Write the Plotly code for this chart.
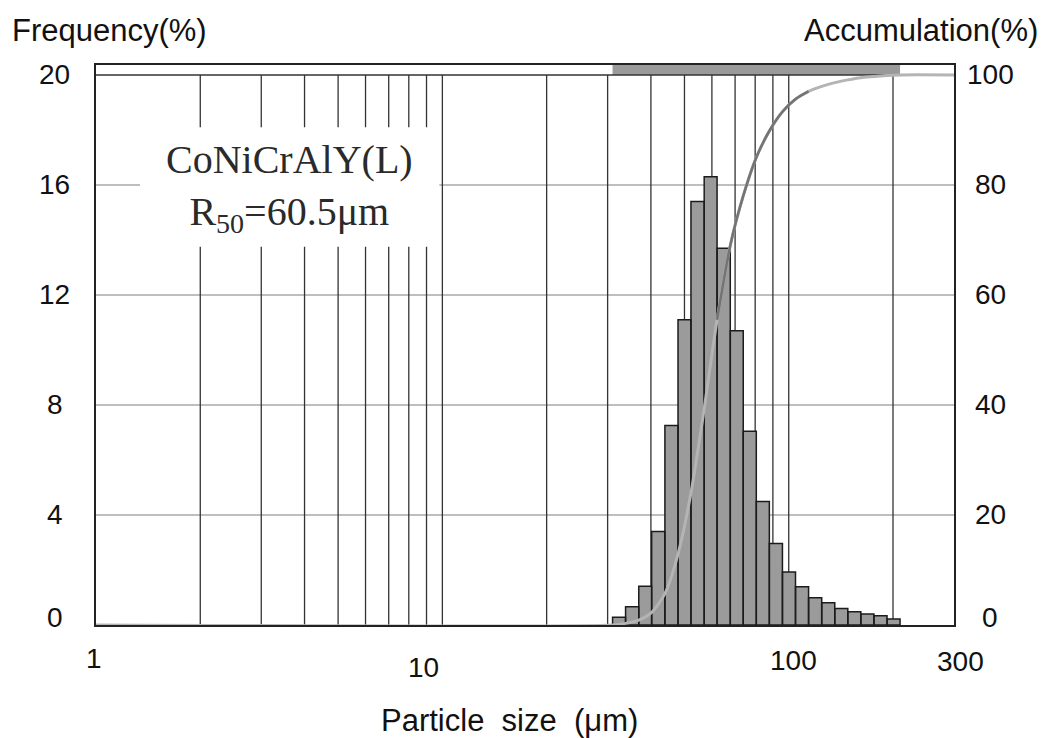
import plotly.graph_objects as go
import math

# ---------------- data ----------------
bin_edges = [31.0, 33.8, 36.9, 40.2, 43.9, 47.9, 52.2, 57.0, 62.1, 67.8, 73.9, 80.6,
             87.9, 95.9, 104.6, 114.1, 124.5, 135.8, 148.1, 161.5, 176.2, 192.2, 209.6]
frequency = [0.28, 0.66, 1.41, 3.4, 7.25, 11.1, 15.4, 16.3, 13.7, 10.7, 7.04, 4.49,
             2.96, 1.93, 1.39, 0.99, 0.81, 0.60, 0.48, 0.40, 0.34, 0.22]
cum_x = [1, 31.0, 33.8, 36.9, 40.2, 43.9, 47.9, 52.2, 57.0, 62.1, 67.8, 73.9, 80.6,
         87.9, 95.9, 104.6, 114.1, 124.5, 135.8, 148.1, 161.5, 176.2, 192.2, 209.6, 300]
cum_y = [0, 0, 0.3, 0.9, 2.3, 5.7, 12.9, 24.0, 39.3, 55.5, 69.0, 78.0, 85.0,
         89.8, 93.3, 95.6, 97.0, 97.9, 98.6, 99.1, 99.5, 99.7, 99.9, 100, 100]
grid_x = [2, 3, 4, 5, 6, 7, 8, 9, 10, 20, 30, 40, 50, 60, 70, 80, 90, 100, 200]
grid_y = [4, 8, 12, 16]
left_ticks = [0, 4, 8, 12, 16, 20]
right_ticks = [0, 20, 40, 60, 80, 100]
x_ticks = [1, 10, 100, 300]
x_tick_text = ["1", "10", "100", "300"]

# ---------------- figure ----------------
Y_MAX = 20.36
X_MIN, X_MAX = 1, 300
fig = go.Figure()

# histogram bars as closed polygons in data coordinates
bx, by = [], []
for i, f in enumerate(frequency):
    l, r = bin_edges[i], bin_edges[i + 1]
    bx += [l, l, r, r, l, None]
    by += [0, f, f, 0, 0, None]
fig.add_trace(go.Scatter(x=bx, y=by, mode="lines", fill="toself",
                         fillcolor="#9b9b9b", line=dict(color="#1c1c1c", width=1.5),
                         hoverinfo="skip", showlegend=False))

# cumulative curve (right axis)
fig.add_trace(go.Scatter(x=cum_x, y=cum_y, yaxis="y2", mode="lines",
                         line=dict(color="#b4b4b4", width=3, shape="spline", smoothing=0.7),
                         showlegend=False))
mid = [(x, y) for x, y in zip(cum_x, cum_y) if 62 <= x <= 115]
fig.add_trace(go.Scatter(x=[m[0] for m in mid], y=[m[1] for m in mid], yaxis="y2",
                         mode="lines",
                         line=dict(color="#747474", width=2.6, shape="spline", smoothing=0.7),
                         showlegend=False))

shapes = []
for g in grid_y:
    shapes.append(dict(type="line", xref="x", yref="y", x0=X_MIN, x1=X_MAX, y0=g, y1=g,
                       line=dict(color="#a8a8a8", width=1.5), layer="below"))
for g in grid_x:
    shapes.append(dict(type="line", xref="x", yref="y", x0=g, x1=g, y0=0, y1=20,
                       line=dict(color="#333333", width=1.3), layer="below"))
# top band over the measured size range
shapes.append(dict(type="rect", xref="x", yref="y", x0=bin_edges[0], x1=bin_edges[-1],
                   y0=20, y1=Y_MAX, fillcolor="#9a9a9a", line=dict(width=0), layer="below"))
shapes.append(dict(type="line", xref="x", yref="y", x0=X_MIN, x1=X_MAX, y0=20, y1=20,
                   line=dict(color="#333333", width=1.5), layer="below"))
# white label box (covers the grid behind the label)
shapes.append(dict(type="rect", xref="x", yref="y", x0=1.34, x1=9.8,
                   y0=13.75, y1=18.1, fillcolor="white", line=dict(width=0), layer="below"))

annotations = []
sans = "Liberation Sans, Arial, sans-serif"
TICK = 28
for t in left_ticks:
    annotations.append(dict(text=str(t), xref="paper", yref="y", x=-0.0478, y=t,
                            xanchor="center", yanchor="middle", showarrow=False,
                            yshift=8 if t == 0 else 0,
                            font=dict(family=sans, size=TICK, color="#111")))
for t in right_ticks:
    annotations.append(dict(text=str(t), xref="paper", yref="y2", x=1.042, y=t,
                            xanchor="center", yanchor="middle", showarrow=False,
                            yshift=8 if t == 0 else 0,
                            font=dict(family=sans, size=TICK, color="#111")))
x_shift = [-2, -19, 5, 6]
x_ypos = [-0.059, -0.075, -0.064, -0.066]
for v, txt, dx, yy in zip(x_ticks, x_tick_text, x_shift, x_ypos):
    annotations.append(dict(text=txt, xref="x", yref="paper", x=math.log10(v), y=yy,
                            xshift=dx, xanchor="center", yanchor="middle", showarrow=False,
                            font=dict(family=sans, size=TICK, color="#111")))
annotations += [
    dict(text="Frequency(%)", xref="paper", yref="paper", x=-0.1002, y=1.0625,
         xanchor="left", yanchor="middle", showarrow=False,
         font=dict(family=sans, size=31, color="#111")),
    dict(text="Accumulation(%)", xref="paper", yref="paper", x=1.1002, y=1.0625,
         xanchor="right", yanchor="middle", showarrow=False,
         font=dict(family=sans, size=31, color="#111")),
    dict(text="Particle\u00a0\u00a0size\u00a0\u00a0(μm)", xref="paper", yref="paper",
         x=0.4825, y=-0.171, xanchor="center", yanchor="middle", showarrow=False,
         font=dict(family=sans, size=31, color="#111")),
    dict(text="CoNiCrAlY(L)<br>R<sub>50</sub>=60.5μm", xref="paper", yref="paper",
         x=0.226, y=0.78, xanchor="center", yanchor="middle", showarrow=False,
         align="center",
         font=dict(family="Liberation Serif, Times New Roman, serif", size=40, color="#2a2a2a")),
]

fig.update_layout(
    width=1049, height=738,
    margin=dict(l=96, r=95, t=65, b=113),
    paper_bgcolor="white", plot_bgcolor="white",
    xaxis=dict(type="log", range=[0, math.log10(X_MAX)], showgrid=False, zeroline=False,
               showticklabels=False, ticks="", showline=True, mirror=True,
               linecolor="#222", linewidth=2),
    yaxis=dict(range=[0, Y_MAX], showgrid=False, zeroline=False, showticklabels=False,
               ticks="", showline=True, mirror=True, linecolor="#222", linewidth=2),
    yaxis2=dict(range=[0, Y_MAX * 5], overlaying="y", side="right", showgrid=False,
                zeroline=False, showticklabels=False, ticks="", showline=False),
    shapes=shapes, annotations=annotations, showlegend=False,
)

fig.write_html("out.html", config={"displayModeBar": False},
               post_script="document.body.style.margin='0';document.body.style.overflow='hidden';")
